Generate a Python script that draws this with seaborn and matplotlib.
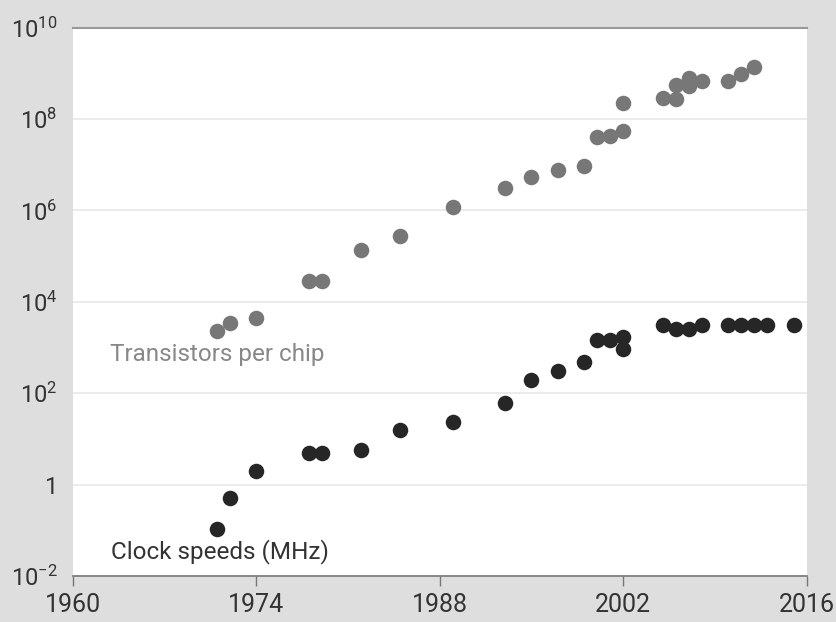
import matplotlib
matplotlib.use("Agg")
import matplotlib.pyplot as plt
import seaborn as sns
import pandas as pd
from matplotlib.ticker import FixedLocator, FixedFormatter

# Data
trans_years = [1971, 1972, 1974, 1978, 1979, 1982, 1985, 1989, 1993, 1995, 1997, 1999,
               2000, 2001, 2002, 2002, 2005, 2006, 2006, 2007, 2007, 2008, 2010, 2011, 2012]
trans_counts = [2300, 3500, 4500, 29000, 29000, 134000, 275000, 1.2e6, 3.1e6, 5.5e6, 7.5e6, 9.5e6,
                4.0e7, 4.2e7, 5.5e7, 2.2e8, 2.85e8, 2.7e8, 5.6e8, 7.8e8, 5.3e8, 6.9e8, 6.9e8, 9.8e8, 1.36e9]

clock_years = [1971, 1972, 1974, 1978, 1979, 1982, 1985, 1989, 1993, 1995, 1997, 1999,
               2000, 2001, 2002, 2002, 2005, 2006, 2007, 2008, 2010, 2011, 2012, 2013, 2015]
clock_mhz = [0.108, 0.5, 2, 4.9, 4.9, 5.8, 15.7, 24, 60, 195, 300, 480,
             1480, 1480, 1740, 910, 3100, 2600, 2600, 3100, 3100, 3100, 3100, 3100, 3100]

ytick_vals = [1e-2, 1, 1e2, 1e4, 1e6, 1e8, 1e10]
ytick_labels = [r"$\mathdefault{10^{-2}}$", "1", r"$\mathdefault{10^{2}}$", r"$\mathdefault{10^{4}}$",
                r"$\mathdefault{10^{6}}$", r"$\mathdefault{10^{8}}$", r"$\mathdefault{10^{10}}$"]
xtick_vals = [1960, 1974, 1988, 2002, 2016]

trans = pd.DataFrame({"year": trans_years, "value": trans_counts})
clock = pd.DataFrame({"year": clock_years, "value": clock_mhz})

sns.set_style("white")
plt.rcParams["font.family"] = ["Roboto", "DejaVu Sans"]

fig = plt.figure(figsize=(8.37, 6.22), dpi=100, facecolor="#dedede")
ax = fig.add_axes([0.0869, 0.074, 0.8769, 0.8815])
ax.set_facecolor("white")

sns.scatterplot(data=trans, x="year", y="value", color="#777777", s=125, linewidth=0, ax=ax, zorder=3)
sns.scatterplot(data=clock, x="year", y="value", color="#262626", s=125, linewidth=0, ax=ax, zorder=3)

ax.set_yscale("log")
ax.set_xlim(1960, 2016)
ax.set_ylim(1e-2, 1e10)
ax.yaxis.set_major_locator(FixedLocator(ytick_vals))
ax.yaxis.set_major_formatter(FixedFormatter(ytick_labels))
ax.yaxis.set_minor_locator(FixedLocator([]))
ax.set_xticks(xtick_vals)
ax.set_xticklabels([str(v) for v in xtick_vals])

ax.grid(axis="y", color="#e8e8e8", linewidth=1.2, zorder=0)
ax.set_axisbelow(True)
ax.tick_params(axis="y", length=7, width=1, color="#999999", labelsize=17, labelcolor="#333333", pad=4)
ax.tick_params(axis="x", length=7, width=1, color="#777777", labelsize=18, labelcolor="#333333", pad=5,
               direction="out", bottom=True)

for side in ["left", "right"]:
    ax.spines[side].set_visible(False)
ax.spines["top"].set_color("#999999")
ax.spines["top"].set_linewidth(1.5)
ax.spines["bottom"].set_color("#777777")
ax.spines["bottom"].set_linewidth(1.2)

ax.set_xlabel("")
ax.set_ylabel("")

ax.text(1962.85, 690, "Transistors per chip", color="#888888", fontsize=17.5, va="center", ha="left")
ax.text(1962.9, 0.035, "Clock speeds (MHz)", color="#333333", fontsize=17.5, va="center", ha="left")

fig.savefig("out.png", dpi=100, facecolor=fig.get_facecolor())
